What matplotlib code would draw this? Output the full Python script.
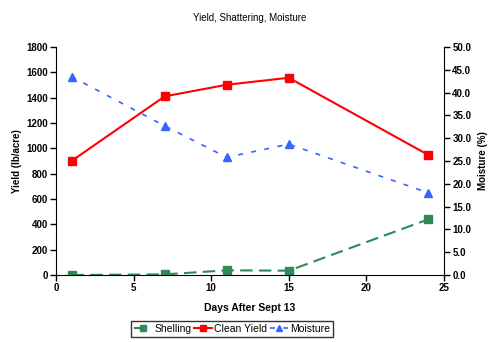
import matplotlib
matplotlib.use("Agg")
from matplotlib import pyplot as plt

plt.rcParams['font.family'] = ['Liberation Sans', 'DejaVu Sans']

days = [1, 7, 11, 15, 24]
shelling = [0, 5, 37, 34, 440]
clean_yield = [900, 1410, 1502, 1557, 947]
moisture = [43.5, 32.7, 25.8, 28.7, 18.0]

fig = plt.figure(figsize=(5.0, 3.42), dpi=100)
ax = fig.add_axes([56 / 500, 1 - 275 / 342, 388 / 500, 228 / 342])
ax2 = ax.twinx()

l1, = ax.plot(days, shelling, color='#2e8b57', lw=1.5, ls=(0, (6, 3)),
              marker='s', ms=6, label='Shelling')
l2, = ax.plot(days, clean_yield, color='#ff0000', lw=1.5,
              marker='s', ms=6, label='Clean Yield')
l3, = ax2.plot(days, moisture, color='#3366ff', lw=1.2, ls=(0, (3, 5)),
               marker='^', ms=6, label='Moisture')

ax.set_xlim(0, 25)
ax.set_ylim(0, 1800)
ax2.set_ylim(0, 50)
ax.set_xticks([0, 5, 10, 15, 20, 25])
ax.set_yticks(range(0, 1801, 200))
ax2.set_yticks(range(0, 51, 5))
ax2.set_yticklabels([f"{v:.1f}" for v in range(0, 51, 5)])

for a in (ax, ax2):
    a.spines['top'].set_visible(False)
    a.tick_params(labelsize=7, length=4, width=1, direction='out', pad=2)
    for lab in a.get_xticklabels() + a.get_yticklabels():
        lab.set_fontweight('bold')
ax.spines['right'].set_visible(False)
ax2.spines['left'].set_visible(False)
ax2.spines['bottom'].set_visible(False)

ax.set_xlabel('Days After Sept 13', fontsize=7.5, fontweight='bold', labelpad=7)
ax.set_ylabel('Yield (lb/acre)', fontsize=7, fontweight='bold', labelpad=3)
ax2.set_ylabel('Moisture (%)', fontsize=7, fontweight='bold', labelpad=5)
fig.text(0.5, 1 - 18 / 342, 'Yield, Shattering, Moisture', ha='center',
         va='center', fontsize=7)

leg = fig.legend(handles=[l1, l2, l3], loc='center',
                 bbox_to_anchor=(232 / 500, 1 - 329 / 342), ncol=3,
                 fontsize=7.5, frameon=True, fancybox=False, edgecolor='black',
                 handlelength=1.8, handletextpad=0.2, columnspacing=0.2,
                 borderpad=0.25, borderaxespad=0, markerscale=0.8)
leg.get_frame().set_linewidth(1)

fig.savefig('out.png', dpi=100)
